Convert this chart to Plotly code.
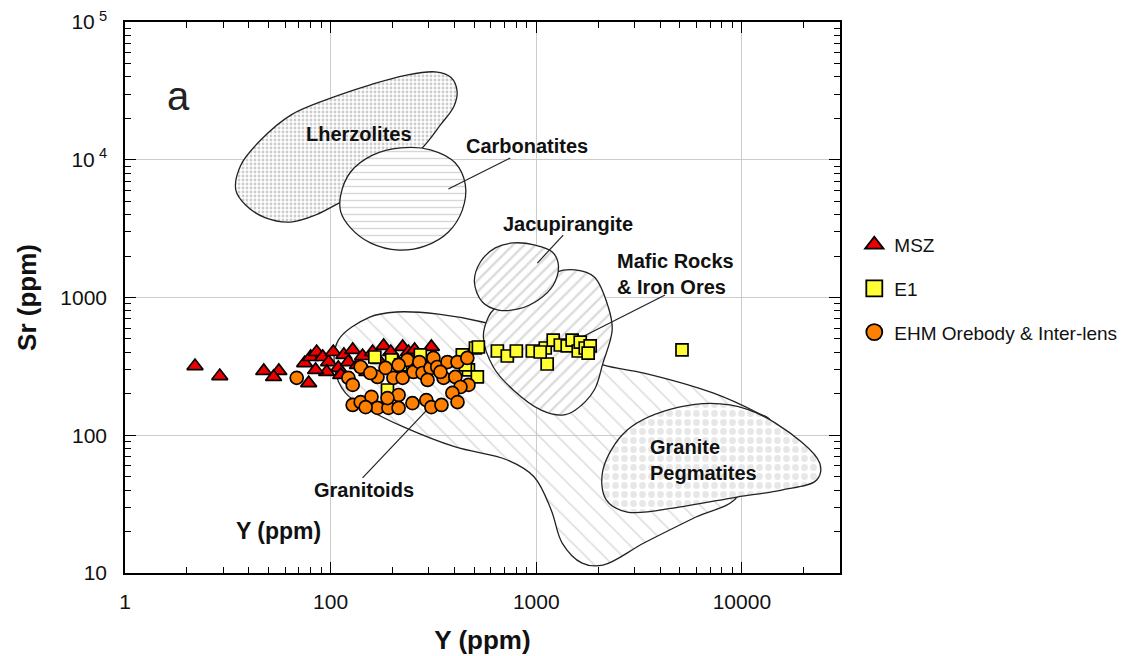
import numpy as np
import plotly.graph_objects as go

# ---------------- data (Y ppm, Sr ppm) ----------------
msz_y = [21.9, 28.9, 47.3, 56, 52.8, 78.2, 74.8, 80, 85.5, 91.5, 97.8, 103, 109, 116, 122, 128,
         135, 143, 150, 160, 171, 181, 196, 209, 224, 239, 256, 274, 309, 95.7, 84.5, 112]
msz_sr = [318, 269, 293, 293, 265, 239, 334, 370, 402, 370, 340, 402, 308, 383, 340, 416,
          324, 376, 288, 402, 352, 445, 402, 352, 438, 402, 416, 364, 438, 288, 298, 274]

e1_y = [164, 198, 189, 437, 506, 468, 452, 517, 523, 647, 723, 800, 957, 1106, 1130, 1209,
        1309, 1414, 1495, 1600, 1636, 1730, 1829, 1788, 5114, 219, 273, 1045]
e1_sr = [370, 352, 213, 383, 430, 298, 324, 265, 437, 409, 376, 409, 409, 430, 329, 491,
         452, 445, 491, 409, 475, 430, 445, 395, 416, 324, 383, 402]

ehm_y = [68.4, 122, 140, 169, 185, 202, 224, 236, 253, 270, 280, 306, 316, 330, 354, 370,
         404, 414, 462, 468, 428, 128, 156, 214, 296, 342,
         128, 140, 158, 169, 191, 214, 214, 250, 292, 309, 346, 391, 414, 189, 148]
ehm_sr = [261, 261, 313, 265, 308, 261, 261, 352, 288, 340, 283, 308, 364, 313, 261, 340,
          265, 340, 364, 232, 224, 232, 283, 324, 252, 288,
          166, 174, 190, 158, 158, 196, 158, 171, 180, 160, 166, 203, 174, 186, 160]

# ---------------- discrimination fields (outline vertices, Y ppm / Sr ppm) ----------------
lherzolites = [(34.6, 6030), (38.6, 4700), (48.3, 3780), (64.0, 3530), (84.5, 3970), (112, 4930),
               (175, 7130), (273, 11800), (342, 17900), (398, 24500), (412, 31500), (385, 39500),
               (323, 43400), (231, 41000), (156, 35000), (100, 28000), (64.0, 21100),
               (45.7, 13900), (36.6, 9160)]
carbonatites = [(112, 5550), (125, 8150), (160, 10800), (219, 12200), (306, 11800), (404, 9460),
                (452, 6560), (437, 4310), (374, 2990), (289, 2370), (214, 2210), (156, 2490),
                (125, 3200), (112, 4180)]
jacupirangite = [(500, 1300), (535, 1810), (632, 2290), (773, 2490), (988, 2400), (1197, 2140),
                 (1281, 1720), (1211, 1233), (1023, 960), (818, 826), (654, 811), (547, 927)]
mafic = [(618, 811), (1250, 1530), (1545, 1585), (1914, 1410), (2240, 853), (2340, 581),
         (2110, 334), (1914, 213), (1545, 152), (1337, 140), (1057, 152), (773, 213),
         (618, 313), (553, 516), (585, 721)]
granitoids = [(109, 491), (155, 721), (209, 785), (334, 758), (547, 664), (1045, 491), (2110, 324),
              (3340, 283), (7230, 203), (11970, 145), (13700, 129), (10900, 92.4), (9460, 35.6),
              (5980, 25.5), (3340, 16.5), (2110, 11.4), (1671, 11.8), (1337, 16.5), (1183, 28.6),
              (977, 49.8), (723, 66.1), (404, 82.2), (226, 115), (155, 152), (118, 203), (105, 298)]
pegmatites = [(2110, 56.0), (2770, 109), (4940, 160), (8750, 166), (14500, 123), (23900, 62.8),
              (23100, 47.3), (15600, 40.0), (9460, 35.6), (4940, 30.1), (2770, 27.7), (2190, 33.9)]

# field labels
label_text = ["Lherzolites", "Carbonatites", "Jacupirangite", "Mafic Rocks<br>& Iron Ores",
              "Granitoids", "Granite<br>Pegmatites"]
label_y = [137, 903, 1429, 4730, 145, 6470]
label_sr = [15400, 12600, 3420, 1483, 40.1, 66.1]

# leader lines (start, end)
leaders = [[(748, 10300), (374, 6140)],
           [(1352, 2840), (1012, 1778)],
           [(4230, 1042), (1671, 516)],
           [(143, 49.0), (303, 160)]]

x_tickvals = [10, 100, 1000, 10000]
x_ticktext = ["1", "100", "1000", "10000"]
y_tickvals = [10, 100, 1000, 10000, 100000]
y_ticktext = ["10", "100", "1000", "10<sup> 4</sup>", "10<sup> 5</sup>"]

FONT = "Liberation Sans, Arial, Helvetica, sans-serif"

fig = go.Figure()


def add_field(pts, shape, fg, size, solidity, bg):
    xs = [p[0] for p in pts] + [pts[0][0]]
    ys = [p[1] for p in pts] + [pts[0][1]]
    fig.add_trace(go.Scatter(
        x=xs, y=ys, mode="lines", fill="toself",
        line=dict(color="#222", width=1.3, shape="spline", smoothing=1.0),
        fillcolor=bg,
        fillpattern=dict(shape=shape, fgcolor=fg, size=size, solidity=solidity, bgcolor=bg),
        showlegend=False, hoverinfo="skip"))


add_field(granitoids, "\\", "#bdbdbd", 13, 0.12, "rgba(255,255,255,0)")
add_field(mafic, "/", "#b5b5b5", 9, 0.25, "white")
add_field(jacupirangite, "/", "#b5b5b5", 8, 0.3, "white")
add_field(pegmatites, ".", "#cfcfcf", 9, 0.45, "white")
add_field(lherzolites, ".", "#9a9a9a", 4, 0.4, "white")
add_field(carbonatites, "-", "#b0b0b0", 7, 0.2, "white")

for seg in leaders:
    fig.add_trace(go.Scatter(x=[p[0] for p in seg], y=[p[1] for p in seg], mode="lines",
                             line=dict(color="#222", width=1.2), showlegend=False, hoverinfo="skip"))

fig.add_trace(go.Scatter(x=msz_y, y=msz_sr, mode="markers", name="MSZ", legendgroup="a",
                         showlegend=False,
                         marker=dict(symbol="triangle-up", size=14, color="#ee0000",
                                     line=dict(color="black", width=1.7))))
fig.add_trace(go.Scatter(x=e1_y, y=e1_sr, mode="markers", name="E1", legendgroup="b",
                         showlegend=False,
                         marker=dict(symbol="square", size=12, color="#ffff33",
                                     line=dict(color="black", width=1.7))))
fig.add_trace(go.Scatter(x=ehm_y, y=ehm_sr, mode="markers", name="EHM Orebody & Inter-lens",
                         legendgroup="c", showlegend=False,
                         marker=dict(symbol="circle", size=13, color="#ff8000",
                                     line=dict(color="black", width=1.7))))

# legend entries (larger symbols, as in the reference legend)
for nm, grp, sym, sz, col in [("MSZ", "a", "triangle-up", 20, "#ee0000"),
                              ("E1", "b", "square", 18, "#ffff33"),
                              ("EHM Orebody & Inter-lens", "c", "circle", 17, "#ff8000")]:
    fig.add_trace(go.Scatter(x=[None], y=[None], mode="markers", name=nm, legendgroup=grp,
                             marker=dict(symbol=sym, size=sz, color=col,
                                         line=dict(color="black", width=1.8))))

for t, xv, yv in zip(label_text, label_y, label_sr):
    fig.add_annotation(x=np.log10(xv), y=np.log10(yv), xref="x", yref="y", text="<b>" + t + "</b>",
                       showarrow=False, font=dict(size=20, family=FONT, color="#111"), align="left")

fig.add_annotation(x=0.056, y=0.909, xref="paper", yref="paper", text="a", showarrow=False,
                   font=dict(size=40, family=FONT, color="#222"))
fig.add_annotation(x=0.153, y=0.049, xref="paper", yref="paper", text="<b>Y (ppm)</b>", showarrow=False,
                   font=dict(size=23, family=FONT, color="#111"))

minor_x = [m * 10 ** d for d in range(1, 5) for m in range(2, 10) if m * 10 ** d < 30000]
minor_y = [m * 10 ** d for d in range(1, 5) for m in range(2, 10)]

axis_common = dict(type="log", ticks="inside", ticklen=11, tickwidth=1.2, tickcolor="black",
                   showline=True, linecolor="black", linewidth=1.5, mirror="ticks",
                   showgrid=True, gridcolor="#cccccc", gridwidth=1, zeroline=False,
                   automargin=False,
                   tickmode="array", tickfont=dict(size=21, family=FONT, color="#111"))

fig.update_xaxes(range=[1, np.log10(30000)], tickvals=x_tickvals, ticktext=x_ticktext,
                 ticklabelstandoff=9,
                 minor=dict(tickvals=minor_x, ticks="inside", ticklen=6, tickcolor="black",
                            showgrid=False),
                 title=dict(text="<b>Y (ppm)</b>", font=dict(size=26, family=FONT, color="#111"),
                            standoff=19),
                 **axis_common)
fig.update_yaxes(range=[1, 5], tickvals=y_tickvals, ticktext=y_ticktext,
                 ticklabelstandoff=12,
                 minor=dict(tickvals=minor_y, ticks="inside", ticklen=6, tickcolor="black",
                            showgrid=False),
                 title=dict(text="<b>Sr (ppm)</b>", font=dict(size=26, family=FONT, color="#111"),
                            standoff=16),
                 **axis_common)

fig.update_layout(
    width=1139, height=656,
    margin=dict(l=125, r=299, t=22, b=83),
    paper_bgcolor="white", plot_bgcolor="white",
    font=dict(family=FONT, color="black"),
    legend=dict(x=1.02, y=0.63, xanchor="left", yanchor="top",
                font=dict(size=19, family=FONT, color="#111"),
                tracegroupgap=16, itemsizing="trace", bgcolor="rgba(0,0,0,0)"),
)

fig.write_html("out.html")
